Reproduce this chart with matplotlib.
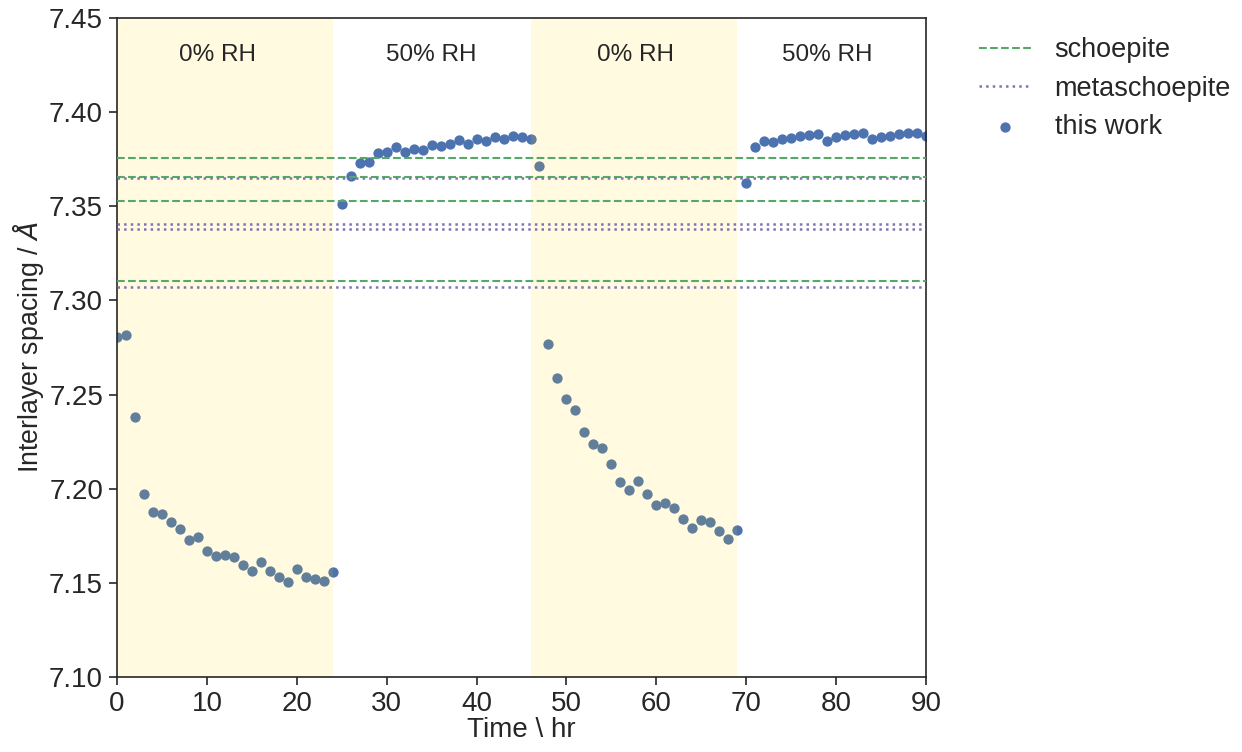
import numpy as np
import matplotlib
matplotlib.use("Agg")
import matplotlib.pyplot as plt
import seaborn as sns

sns.set_style("ticks")
plt.rcParams['font.family'] = ['Liberation Sans', 'DejaVu Sans']

# measured interlayer spacing, one point per hour
time_hr = np.arange(0, 91)
spacing = [
    7.2807, 7.2818, 7.2379, 7.1972, 7.1877, 7.1866, 7.1825, 7.1786, 7.1728, 7.1742,
    7.1671, 7.1643, 7.1647, 7.1639, 7.1597, 7.1561, 7.1611, 7.1565, 7.1530, 7.1507,
    7.1574, 7.1530, 7.1519, 7.1512, 7.1558,
    7.3512, 7.3661, 7.3732, 7.3737, 7.3781, 7.3788, 7.3817, 7.3790, 7.3804, 7.3797,
    7.3826, 7.3820, 7.3833, 7.3852, 7.3833, 7.3859, 7.3845, 7.3866, 7.3859, 7.3875,
    7.3868, 7.3856,
    7.3716,
    7.2769, 7.2590, 7.2477, 7.2417, 7.2300, 7.2237, 7.2219, 7.2130, 7.2034, 7.1995,
    7.2040, 7.1974, 7.1912, 7.1923, 7.1898, 7.1839, 7.1790, 7.1836, 7.1823, 7.1777,
    7.1735, 7.1779,
    7.3622, 7.3817, 7.3848, 7.3840, 7.3856, 7.3864, 7.3873, 7.3879, 7.3886, 7.3847,
    7.3870, 7.3880, 7.3884, 7.3888, 7.3856, 7.3870, 7.3873, 7.3882, 7.3888, 7.3888,
    7.3873,
]

# literature reference spacings
schoepite = [7.3755, 7.3657, 7.3528, 7.3105]
metaschoepite = [7.3652, 7.3404, 7.3378, 7.3073]

# humidity periods
dry_periods = [(0, 24), (46, 69)]
rh_labels = ["0% RH", "50% RH", "0% RH", "50% RH"]
rh_label_x = [11.2, 35, 57.7, 79]

fig = plt.figure(figsize=(12.42, 7.52), dpi=100)
ax = fig.add_axes([0.0942, 0.0997, 0.6514, 0.8763])

for i, s in enumerate(schoepite):
    ax.axhline(s, color="#55A868", ls="--", lw=1.5, zorder=3,
               label="schoepite" if i == 0 else None)
for i, m in enumerate(metaschoepite):
    ax.axhline(m, color="#8172B2", ls=":", lw=1.8, zorder=3,
               label="metaschoepite" if i == 0 else None)

ax.scatter(time_hr, spacing, s=55, color="#4C72B0", zorder=2, label="this work",
           linewidths=0)

for start, end in dry_periods:
    ax.axvspan(start, end, color="#FFD700", alpha=0.12, lw=0, zorder=2.5)

for lab, xx in zip(rh_labels, rh_label_x):
    ax.text(xx, 7.4305, lab, ha="center", va="center", fontsize=17.5, color="#262626")

ax.set_xlim(0, 90)
ax.set_ylim(7.10, 7.45)
ax.set_yticks(np.arange(7.10, 7.451, 0.05))
ax.set_xticks(np.arange(0, 91, 10))
ax.yaxis.set_major_formatter(matplotlib.ticker.FormatStrFormatter("%.2f"))
ax.tick_params(labelsize=20, length=6, width=1.2, colors="#262626", pad=4)
for sp in ax.spines.values():
    sp.set_color("#262626")
    sp.set_linewidth(1.2)

ax.set_xlabel("Time \\ hr", fontsize=20, color="#262626", labelpad=0)
ax.set_ylabel("Interlayer spacing / $\\AA$", fontsize=19.3, color="#262626", labelpad=2)

ax.legend(loc="upper left", bbox_to_anchor=(1.035, 1.008), frameon=False, fontsize=19.5,
          scatterpoints=1, handlelength=1.95, handletextpad=0.85, labelspacing=0.46)

fig.savefig("out.png", dpi=100)
